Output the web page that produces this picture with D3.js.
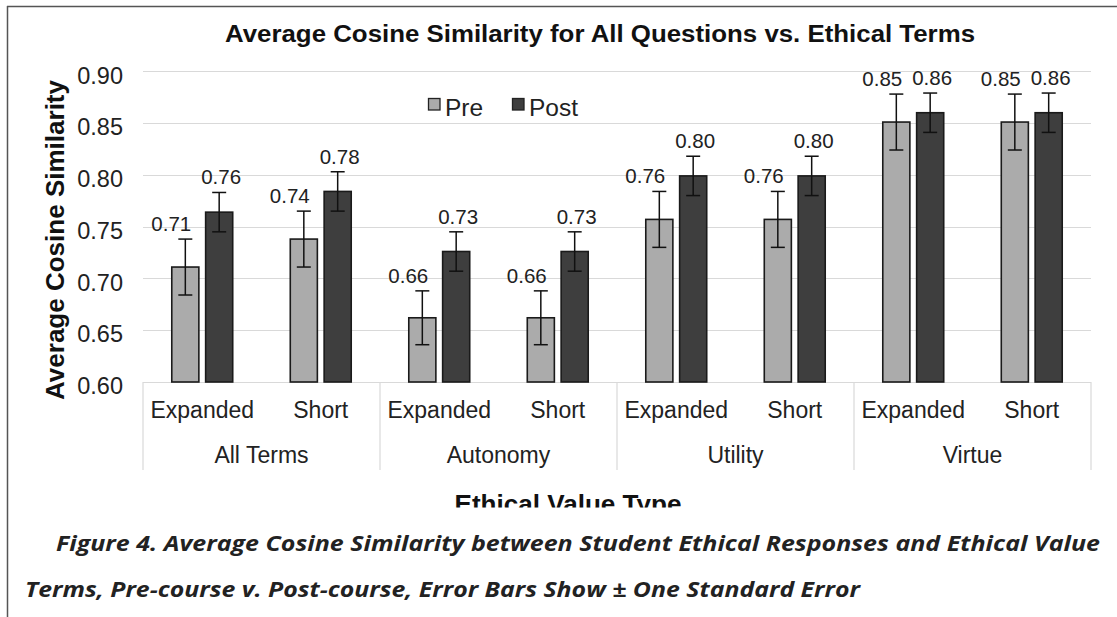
<!DOCTYPE html>
<html>
<head>
<meta charset="utf-8">
<script src="https://cdn.jsdelivr.net/npm/d3@7"></script>
<style>
  body { margin: 0; background: #fff; }
  svg { display: block; }
</style>
</head>
<body>
<svg id="chart" width="1117" height="617"></svg>
<script>
(function() {

// values
const groups = ["All Terms", "Autonomy", "Utility", "Virtue"];
const subTypes = ["Expanded", "Short"];
const seriesNames = ["Pre", "Post"];
const preValues  = [0.711, 0.738, 0.662, 0.662, 0.757, 0.757, 0.851, 0.851];
const postValues = [0.764, 0.784, 0.726, 0.726, 0.799, 0.799, 0.860, 0.860];
const preErr  = [0.027, 0.027, 0.026, 0.026, 0.027, 0.027, 0.027, 0.027];
const postErr = [0.019, 0.019, 0.019, 0.019, 0.019, 0.019, 0.019, 0.019];
const yTicks = [0.60, 0.65, 0.70, 0.75, 0.80, 0.85, 0.90];

const svg = d3.select("#chart");
const font = "'Liberation Sans', Arial, sans-serif";
const colors = { Pre: "#ababab", Post: "#3e3e3e" };

// build rows: one per group / sub type / series
let rows = [];
groups.forEach(function(g, gi) {
    subTypes.forEach(function(s, si) {
        const i = gi * subTypes.length + si;
        rows.push({ group: g, sub: s, series: "Pre", value: preValues[i], err: preErr[i] });
        rows.push({ group: g, sub: s, series: "Post", value: postValues[i], err: postErr[i] });
    });
});

const plot = { left: 143, right: 1091, top: 71.3, bottom: 382 };

const x0 = d3.scaleBand().domain(groups).range([plot.left, plot.right]);
const x1 = d3.scaleBand().domain(subTypes).range([0, x0.bandwidth()]);
const x2 = d3.scaleBand().domain(seriesNames).range([0, x1.bandwidth()])
    .paddingInner(0.2).paddingOuter(0.85);
const y = d3.scaleLinear().domain([0.60, 0.90]).range([plot.bottom, plot.top]);

const barX = (d) => x0(d.group) + x1(d.sub) + x2(d.series);
const barMid = (d) => barX(d) + x2.bandwidth() / 2;

// frame lines of the page
svg.append("line").attr("x1", 7).attr("x2", 1117).attr("y1", 6.5).attr("y2", 6.5)
    .attr("stroke", "#555").attr("stroke-width", 1.5);
svg.append("line").attr("x1", 7.5).attr("x2", 7.5).attr("y1", 6).attr("y2", 617)
    .attr("stroke", "#555").attr("stroke-width", 1.5);

// title
svg.append("text")
    .attr("x", 600).attr("y", 42)
    .attr("text-anchor", "middle")
    .attr("font-family", font).attr("font-weight", "bold").attr("font-size", 23)
    .attr("textLength", 750).attr("lengthAdjust", "spacingAndGlyphs")
    .attr("fill", "#111")
    .text("Average Cosine Similarity for All Questions vs. Ethical Terms");

// gridlines
svg.append("g").selectAll("line")
    .data(yTicks).enter().append("line")
    .attr("x1", plot.left).attr("x2", plot.right)
    .attr("y1", (d) => Math.round(y(d)) + 0.5).attr("y2", (d) => Math.round(y(d)) + 0.5)
    .attr("stroke", "#d9d9d9").attr("stroke-width", 1.2);

// y axis, ticks only
const yAxis = svg.append("g")
    .attr("transform", "translate(" + (plot.left - 20) + ",0)")
    .call(d3.axisLeft(y).tickValues(yTicks).tickFormat(d3.format(".2f")).tickSize(0).tickPadding(0));
yAxis.select(".domain").remove();
yAxis.selectAll("text")
    .attr("font-family", font).attr("font-size", 23.5).attr("fill", "#222")
    .attr("dy", "0.5em");

// y axis title
svg.append("text")
    .attr("transform", "translate(64,240) rotate(-90)")
    .attr("text-anchor", "middle")
    .attr("font-family", font).attr("font-weight", "bold").attr("font-size", 26)
    .attr("textLength", 320).attr("lengthAdjust", "spacingAndGlyphs")
    .attr("fill", "#111")
    .text("Average Cosine Similarity");

// legend
const legend = svg.append("g").attr("transform", "translate(428,98)")
    .selectAll("g").data(seriesNames).enter().append("g")
    .attr("transform", (d, i) => "translate(" + (i * 84) + ",0)");
legend.append("rect")
    .attr("x", 0.5).attr("y", 0.5).attr("width", 11.5).attr("height", 11.5)
    .attr("fill", (d) => colors[d]).attr("stroke", "#222").attr("stroke-width", 1.3);
legend.append("text")
    .attr("x", 17).attr("y", 18)
    .attr("font-family", font).attr("font-size", 24.5).attr("fill", "#222")
    .text((d) => d);

// bars
svg.append("g").selectAll("rect")
    .data(rows).enter().append("rect")
    .attr("x", (d) => barX(d))
    .attr("y", (d) => y(d.value))
    .attr("width", x2.bandwidth())
    .attr("height", (d) => y(0.60) - y(d.value))
    .attr("fill", (d) => colors[d.series])
    .attr("stroke", "#1a1a1a").attr("stroke-width", 1.6);

// error bars
const err = svg.append("g").attr("stroke", "#111").attr("stroke-width", 1.5)
    .selectAll("g").data(rows).enter().append("g");
err.append("line")
    .attr("x1", barMid).attr("x2", barMid)
    .attr("y1", (d) => y(d.value + d.err)).attr("y2", (d) => y(d.value - d.err));
err.append("line")
    .attr("x1", (d) => barMid(d) - 7).attr("x2", (d) => barMid(d) + 7)
    .attr("y1", (d) => y(d.value + d.err)).attr("y2", (d) => y(d.value + d.err));
err.append("line")
    .attr("x1", (d) => barMid(d) - 7).attr("x2", (d) => barMid(d) + 7)
    .attr("y1", (d) => y(d.value - d.err)).attr("y2", (d) => y(d.value - d.err));

// data labels, pre labels sit a little to the left
svg.append("g").selectAll("text")
    .data(rows).enter().append("text")
    .attr("x", (d) => barMid(d) + (d.series === "Pre" ? -14 : 2))
    .attr("y", (d) => y(d.value + d.err) - 8)
    .attr("text-anchor", "middle")
    .attr("font-family", font).attr("font-size", 20.5).attr("fill", "#222")
    .text((d) => d.value.toFixed(2));

// category axis: sub type labels, group labels and separators
svg.append("g").selectAll("line")
    .data(groups.concat(["end"])).enter().append("line")
    .attr("x1", (d) => d === "end" ? plot.right : x0(d))
    .attr("x2", (d) => d === "end" ? plot.right : x0(d))
    .attr("y1", plot.bottom).attr("y2", 470)
    .attr("stroke", "#d9d9d9").attr("stroke-width", 1.2);

const subLabels = [];
groups.forEach((g) => subTypes.forEach((s) => subLabels.push({ group: g, sub: s })));
svg.append("g").selectAll("text")
    .data(subLabels).enter().append("text")
    .attr("x", (d) => x0(d.group) + x1(d.sub) + x1.bandwidth() / 2)
    .attr("y", 418.3)
    .attr("text-anchor", "middle")
    .attr("font-family", font).attr("font-size", 23).attr("fill", "#222")
    .text((d) => d.sub);

svg.append("g").selectAll("text")
    .data(groups).enter().append("text")
    .attr("x", (d) => x0(d) + x0.bandwidth() / 2)
    .attr("y", 463.3)
    .attr("text-anchor", "middle")
    .attr("font-family", font).attr("font-size", 23).attr("fill", "#222")
    .text((d) => d);

// x axis title, cut off by the bottom of the chart picture
svg.append("clipPath").attr("id", "chartClip")
    .append("rect").attr("x", 0).attr("y", 0).attr("width", 1117).attr("height", 507.5);
svg.append("text")
    .attr("clip-path", "url(#chartClip)")
    .attr("x", 568).attr("y", 513)
    .attr("text-anchor", "middle")
    .attr("font-family", font).attr("font-weight", "bold").attr("font-size", 25)
    .attr("textLength", 227).attr("lengthAdjust", "spacingAndGlyphs")
    .attr("fill", "#111")
    .text("Ethical Value Type");

// figure caption
const capFont = "'Open Sans', 'Noto Sans', sans-serif";
svg.append("text")
    .attr("x", 56).attr("y", 550.7)
    .attr("font-family", capFont).attr("font-weight", 700).attr("font-style", "italic")
    .attr("font-size", 20.5).attr("fill", "#222")
    .attr("textLength", 1044).attr("lengthAdjust", "spacingAndGlyphs")
    .text("Figure 4. Average Cosine Similarity between Student Ethical Responses and Ethical Value");
svg.append("text")
    .attr("x", 25).attr("y", 596.7)
    .attr("font-family", capFont).attr("font-weight", 700).attr("font-style", "italic")
    .attr("font-size", 20.5).attr("fill", "#222")
    .attr("textLength", 835).attr("lengthAdjust", "spacingAndGlyphs")
    .text("Terms, Pre-course v. Post-course, Error Bars Show \u00B1 One Standard Error");

})();
</script>
</body>
</html>
